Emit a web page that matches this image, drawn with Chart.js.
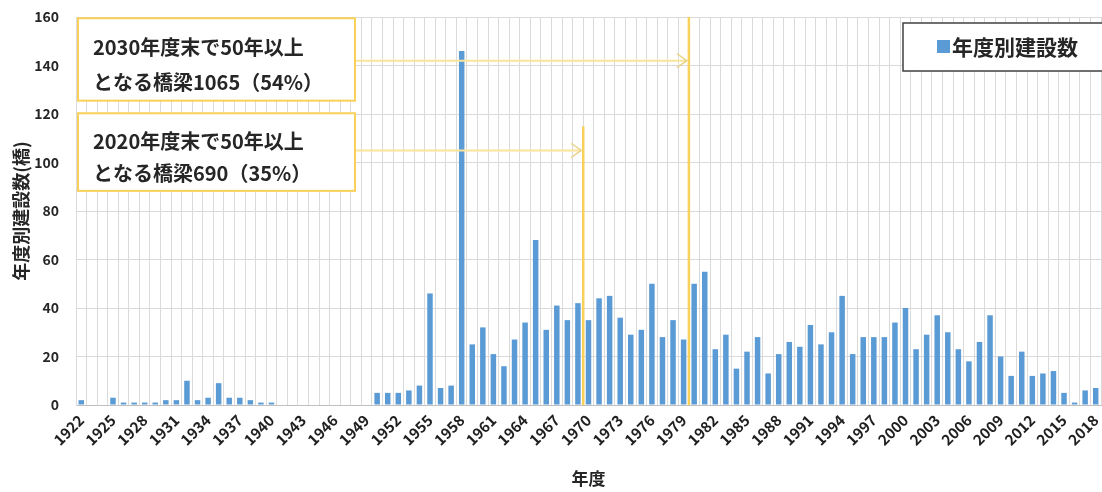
<!DOCTYPE html>
<html>
<head>
<meta charset="utf-8">
<script src="https://cdn.jsdelivr.net/npm/chart.js@4/dist/chart.umd.min.js"></script>
<style>
  html, body { margin: 0; padding: 0; background: #fff; }
  #wrap { width: 1102px; height: 492px; position: relative; }
</style>
</head>
<body>
<div id="wrap"><canvas id="c"></canvas></div>
<script>
const years = [
  '1922','1923','1924','1925','1926','1927','1928','1929','1930','1931',
  '1932','1933','1934','1935','1936','1937','1938','1939','1940','1941',
  '1942','1943','1944','1945','1946','1947','1948','1949','1950','1951',
  '1952','1953','1954','1955','1956','1957','1958','1959','1960','1961',
  '1962','1963','1964','1965','1966','1967','1968','1969','1970','1971',
  '1972','1973','1974','1975','1976','1977','1978','1979','1980','1981',
  '1982','1983','1984','1985','1986','1987','1988','1989','1990','1991',
  '1992','1993','1994','1995','1996','1997','1998','1999','2000','2001',
  '2002','2003','2004','2005','2006','2007','2008','2009','2010','2011',
  '2012','2013','2014','2015','2016','2017','2018'
];
const builtPerYear = [
  2,0,0,3,1,1,1,1,2,2,
  10,2,3,9,3,3,2,1,1,0,
  0,0,0,0,0,0,0,0,5,5,
  5,6,8,46,7,8,146,25,32,21,
  16,27,34,68,31,41,35,42,35,44,
  45,36,29,31,50,28,35,27,50,55,
  23,29,15,22,28,13,21,26,24,33,
  25,30,45,21,28,28,28,34,40,23,
  29,37,30,23,18,26,37,20,12,22,
  12,13,14,5,1,6,7
];
const shownTickYears = ['1922','1925','1928','1931','1934','1937','1940','1943','1946','1949',
  '1952','1955','1958','1961','1964','1967','1970','1973','1976','1979','1982','1985',
  '1988','1991','1994','1997','2000','2003','2006','2009','2012','2015','2018'];
const yTicks = [0,20,40,60,80,100,120,140,160];

const seriesLabel = '年度別建設数';
const note2030 = ['2030年度末で50年以上', 'となる橋梁1065（54%）'];
const note2020 = ['2020年度末で50年以上', 'となる橋梁690（35%）'];
const boundary2030 = ['1979','1980'];
const boundary2020 = ['1969','1970'];

const FONT = "'Noto Sans CJK JP', 'Noto Sans', sans-serif";
const YEL = '#F9D05A';
const BLUE = '#5B9BD5';

function arrow(ctx, x1, x2, y) {
  ctx.save();
  ctx.strokeStyle = '#FBE39A';
  ctx.lineWidth = 2;
  ctx.beginPath(); ctx.moveTo(x1, y); ctx.lineTo(x2 - 2, y); ctx.stroke();
  ctx.strokeStyle = '#E8D48A';
  ctx.lineWidth = 1.5;
  ctx.beginPath();
  ctx.moveTo(x2 - 12, y - 7); ctx.lineTo(x2 - 2, y); ctx.lineTo(x2 - 12, y + 7);
  ctx.stroke();
  ctx.restore();
}

function noteBox(ctx, x1, x2, y1, y2, lines) {
  ctx.save();
  ctx.fillStyle = '#fff';
  ctx.fillRect(x1, y1, x2 - x1, y2 - y1);
  ctx.strokeStyle = YEL;
  ctx.lineWidth = 2;
  ctx.strokeRect(x1, y1, x2 - x1, y2 - y1);
  ctx.fillStyle = '#262626';
  ctx.font = 'bold 20px ' + FONT;
  ctx.textBaseline = 'middle';
  ctx.textAlign = 'left';
  const h = y2 - y1;
  ctx.fillText(lines[0], x1 + 15, y1 + h * 0.36);
  ctx.fillText(lines[1], x1 + 15, y1 + h * 0.78);
  ctx.restore();
}

const annot = {
  id: 'annot',
  afterDatasetsDraw(chart) {
    const ctx = chart.ctx;
    const xs = chart.scales.x, ys = chart.scales.y;
    const ca = chart.chartArea;
    const bx = (pair) => (xs.getPixelForValue(years.indexOf(pair[0])) + xs.getPixelForValue(years.indexOf(pair[1]))) / 2;
    const x2030 = bx(boundary2030), x2020 = bx(boundary2020);
    const y0 = ys.getPixelForValue(0);

    ctx.save();
    ctx.strokeStyle = YEL;
    ctx.lineWidth = 2.5;
    ctx.beginPath(); ctx.moveTo(x2030, ys.getPixelForValue(160)); ctx.lineTo(x2030, y0); ctx.stroke();
    ctx.beginPath(); ctx.moveTo(x2020, ys.getPixelForValue(115)); ctx.lineTo(x2020, y0); ctx.stroke();
    ctx.restore();

    const bL = ca.left + 2, bR = ca.left + 279;
    arrow(ctx, bR, x2030, ys.getPixelForValue(142));
    arrow(ctx, bR, x2020, ys.getPixelForValue(105));

    noteBox(ctx, bL, bR, ys.getPixelForValue(159.5), ys.getPixelForValue(125.5), note2030);
    noteBox(ctx, bL, bR, ys.getPixelForValue(120.3), ys.getPixelForValue(88.3), note2020);

    ctx.save();
    const lx = 903, ly = 23, lw = 230, lh = 48;
    ctx.fillStyle = '#fff';
    ctx.fillRect(lx, ly, lw, lh);
    ctx.strokeStyle = '#404040';
    ctx.lineWidth = 1.5;
    ctx.strokeRect(lx, ly, lw, lh);
    ctx.fillStyle = BLUE;
    ctx.fillRect(937, 40, 13, 13);
    ctx.fillStyle = '#262626';
    ctx.font = 'bold 21px ' + FONT;
    ctx.textBaseline = 'middle';
    ctx.textAlign = 'left';
    ctx.fillText(seriesLabel, 952, 47);
    ctx.restore();
  }
};

new Chart(document.getElementById('c'), {
  type: 'bar',
  data: {
    labels: years,
    datasets: [{
      label: seriesLabel,
      data: builtPerYear,
      backgroundColor: BLUE,
      borderWidth: 0,
      barPercentage: 0.52,
      categoryPercentage: 1.0
    }]
  },
  options: {
    responsive: true,
    maintainAspectRatio: false,
    animation: false,
    layout: { padding: { left: 7, right: 1, top: 17, bottom: 0 } },
    plugins: { legend: { display: false }, tooltip: { enabled: false } },
    scales: {
      x: {
        grid: { color: '#DADADA', lineWidth: 1, drawTicks: false, offset: true },
        border: { color: '#BFBFBF' },
        ticks: {
          autoSkip: false,
          maxRotation: 45, minRotation: 45,
          padding: 6,
          color: '#1F1F1F',
          font: { family: FONT, size: 15, weight: 'bold' },
          callback: function(v, i) { const l = years[i]; return shownTickYears.includes(l) ? l : ''; }
        },
        title: { display: true, text: '年度', color: '#262626', font: { family: FONT, size: 17, weight: 'bold' }, padding: { top: 0, bottom: 3 } },
        afterFit(s) { s.height = 87; s.paddingLeft = 0; s.paddingRight = 0; }
      },
      y: {
        min: 0, max: 160,
        afterBuildTicks(s) { s.ticks = yTicks.map(v => ({ value: v })); },
        grid: { color: '#DADADA', lineWidth: 1, drawTicks: false },
        border: { color: '#DADADA' },
        ticks: {
          padding: 17,
          color: '#262626',
          font: { family: FONT, size: 14, weight: 'bold' }
        },
        title: { display: true, text: '年度別建設数(橋)', color: '#262626', font: { family: FONT, size: 18, weight: 'bold' }, padding: { top: 3, bottom: 4 } },
        afterFit(s) { s.width = 69; s.paddingTop = 0; s.paddingBottom = 0; }
      }
    }
  },
  plugins: [annot]
});
</script>
</body>
</html>
